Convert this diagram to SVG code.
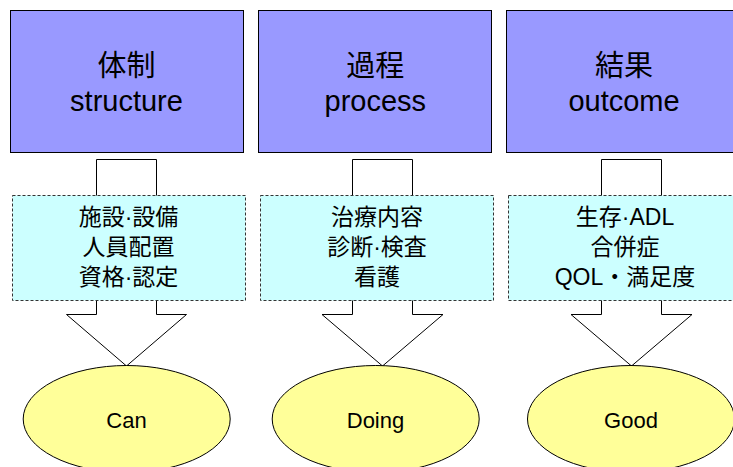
<svg xmlns="http://www.w3.org/2000/svg" width="733" height="467" viewBox="0 0 733 467">
<style>
  .top { fill: #9999FF; stroke: #000; stroke-width: 1; }
  .mid { fill: #CCFFFF; stroke: #333; stroke-width: 1; stroke-dasharray: 3 2; }
  .arr { fill: #FFF; stroke: #000; stroke-width: 1; stroke-linejoin: miter; }
  .ell { fill: #FFFF99; stroke: #000; stroke-width: 1; }
  text { font-family: "Liberation Sans", "Noto Sans CJK JP", Arial, sans-serif; fill: #000; text-anchor: middle; }
  .t1 { font-size: 29px; }
  .t2 { font-size: 23px; }
  .t3 { font-size: 22px; }
</style>
<rect width="733" height="467" fill="#FFFFFF"/>
<g id="connectors">
  <polygon class="arr" points="96.5,159.5 156.5,159.5 156.5,314.5 186.5,314.5 126.5,366 66.5,314.5 96.5,314.5"/>
  <polygon class="arr" points="352.5,159.5 412.5,159.5 412.5,314.5 443,314.5 382.5,366 322,314.5 352.5,314.5"/>
  <polygon class="arr" points="601.5,159.5 661.5,159.5 661.5,314.5 692,314.5 631.5,366 571,314.5 601.5,314.5"/>
</g>
<g id="structure">
  <rect class="top" x="10.5" y="10.5" width="233" height="142"/>
  <text class="t1" x="126.5" y="76">体制</text>
  <text class="t1" x="126.5" y="110.5">structure</text>
</g>
<g id="process">
  <rect class="top" x="258.5" y="10.5" width="233" height="142"/>
  <text class="t1" x="375.3" y="76">過程</text>
  <text class="t1" x="375.3" y="110.5">process</text>
</g>
<g id="outcome">
  <rect class="top" x="506.5" y="10.5" width="234" height="142"/>
  <text class="t1" x="624" y="76">結果</text>
  <text class="t1" x="624" y="110.5">outcome</text>
</g>
<g id="structure-items">
  <rect class="mid" x="12.5" y="195.5" width="233" height="105"/>
  <text class="t2" x="128.5" y="224.5">施設·設備</text>
  <text class="t2" x="128.5" y="254.5">人員配置</text>
  <text class="t2" x="128.5" y="284.5">資格·認定</text>
</g>
<g id="process-items">
  <rect class="mid" x="260.5" y="195.5" width="233" height="105"/>
  <text class="t2" x="377" y="224.5">治療内容</text>
  <text class="t2" x="377" y="254.5">診断·検査</text>
  <text class="t2" x="377" y="284.5">看護</text>
</g>
<g id="outcome-items">
  <rect class="mid" x="508.5" y="195.5" width="234" height="105"/>
  <text class="t2" x="625" y="224.5">生存·ADL</text>
  <text class="t2" x="625" y="254.5">合併症</text>
  <text class="t2" x="625" y="284.5">QOL・満足度</text>
</g>
<g id="can">
  <ellipse class="ell" cx="126.7" cy="419" rx="103.5" ry="53.5"/>
  <text class="t3" x="126.5" y="427.5">Can</text>
</g>
<g id="doing">
  <ellipse class="ell" cx="375.7" cy="419" rx="103.5" ry="53.5"/>
  <text class="t3" x="375.5" y="427.5">Doing</text>
</g>
<g id="good">
  <ellipse class="ell" cx="631" cy="419" rx="103.5" ry="53.5"/>
  <text class="t3" x="631" y="427.5">Good</text>
</g>
</svg>
